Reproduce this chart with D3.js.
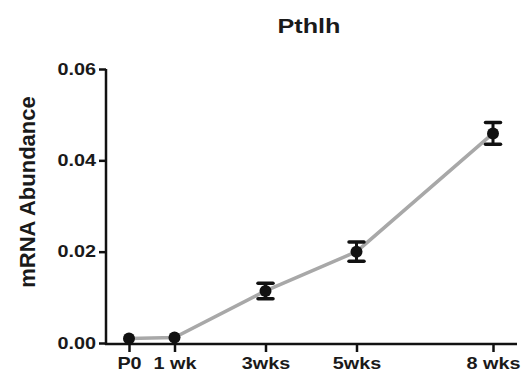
<!DOCTYPE html>
<html>
<head>
<meta charset="utf-8">
<script src="https://cdn.jsdelivr.net/npm/d3@7"></script>
<style>
  body { margin: 0; background: #fff; }
  text { font-family: "Liberation Sans", Arial, sans-serif; font-weight: bold; fill: #1a1a1a; }
</style>
</head>
<body>
<svg id="chart"></svg>
<script>
// data
var weeks = [0, 1, 3, 5, 8];
var labels = ["P0", "1 wk", "3wks", "5wks", "8 wks"];
var means = [0.0010, 0.0012, 0.0114, 0.0200, 0.0459];
var errs = [0.0003, 0.0003, 0.0017, 0.0021, 0.0024];
var yTicks = [0, 0.02, 0.04, 0.06];

var svgWidth = 524, svgHeight = 376;
var svg = d3.select('#chart')
  .attr('width', svgWidth)
  .attr('height', svgHeight);

var x = d3.scaleLinear().domain([0, 8]).range([129, 493]);
var y = d3.scaleLinear().domain([0, 0.06]).range([343, 69]);

// the original picture is a bit wider than tall, so widen horizontal text
function stretch(sel, k) {
  sel.each(function() {
    var len = this.getComputedTextLength();
    d3.select(this).attr('textLength', len * k).attr('lengthAdjust', 'spacingAndGlyphs');
  });
}

// title
svg.append('text')
  .attr('x', 309).attr('y', 33)
  .attr('text-anchor', 'middle')
  .style('font-size', '21px')
  .text('Pthlh')
  .call(stretch, 1.2);

// y label
svg.append('text')
  .attr('transform', 'translate(35,192) rotate(-90)')
  .attr('text-anchor', 'middle')
  .style('font-size', '22px')
  .text('mRNA Abundance');

// axes
var yAxis = d3.axisLeft(y).tickValues(yTicks).tickFormat(d3.format('.2f')).tickSize(7).tickPadding(3);
var gy = svg.append('g').attr('transform', 'translate(106,0)').call(yAxis);

var xAxis = d3.axisBottom(x).tickValues(weeks).tickFormat(function(d, i) { return labels[i]; }).tickSize(8).tickPadding(5);
var gx = svg.append('g').attr('transform', 'translate(0,344)').call(xAxis);

gy.select('.domain').attr('d', 'M0,' + y(0.06) + 'V345');
gx.select('.domain').attr('d', 'M105,0H517');
svg.selectAll('.domain, .tick line').attr('stroke', '#111').attr('stroke-width', 2.5);
svg.selectAll('.tick text')
  .style('font-size', '16.5px')
  .style('font-family', '"Liberation Sans", Arial, sans-serif')
  .attr('fill', '#1a1a1a')
  .call(stretch, 1.2);

// line
var line = d3.line()
  .x(function(d, i) { return x(weeks[i]); })
  .y(function(d) { return y(d); });

svg.append('path')
  .datum(means)
  .attr('d', line)
  .attr('fill', 'none')
  .attr('stroke', '#a8a8a8')
  .attr('stroke-width', 3.5);

// error bars
var eb = svg.selectAll('.eb').data(means).enter().append('g').attr('class', 'eb');
eb.append('line')
  .attr('x1', function(d, i) { return x(weeks[i]); })
  .attr('x2', function(d, i) { return x(weeks[i]); })
  .attr('y1', function(d, i) { return y(d + errs[i]); })
  .attr('y2', function(d, i) { return y(d - errs[i]); })
  .attr('stroke', '#111').attr('stroke-width', 3);
eb.each(function(d, i) {
  if (errs[i] < 0.001) return;
  var g = d3.select(this);
  [d + errs[i], d - errs[i]].forEach(function(v) {
    g.append('line')
      .attr('x1', x(weeks[i]) - 7.5).attr('x2', x(weeks[i]) + 7.5)
      .attr('y1', y(v)).attr('y2', y(v))
      .attr('stroke', '#111').attr('stroke-width', 3.5)
      .attr('stroke-linecap', 'round');
  });
});

// points
svg.selectAll('.pt').data(means).enter().append('circle')
  .attr('cx', function(d, i) { return x(weeks[i]); })
  .attr('cy', function(d) { return y(d); })
  .attr('r', 6)
  .attr('fill', '#111');
</script>
</body>
</html>
